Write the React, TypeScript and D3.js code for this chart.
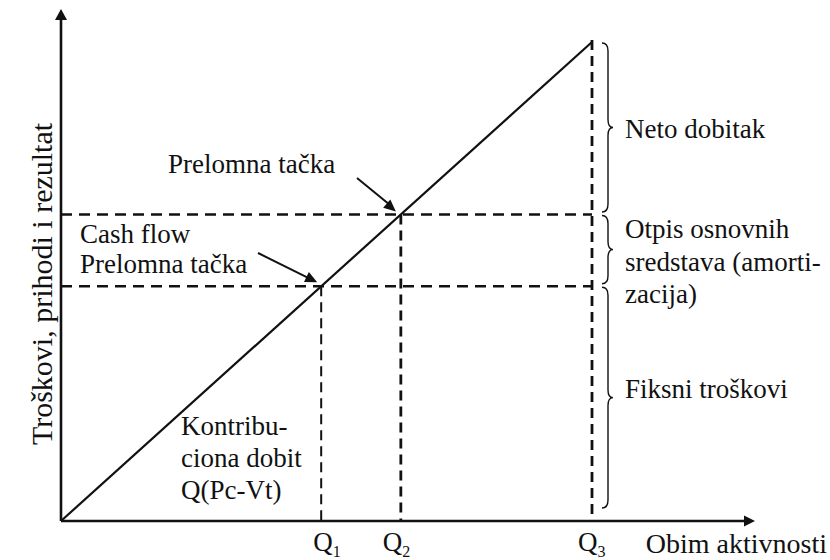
import React from "react";
import * as d3 from "d3";

// ---- data (abstract units) ----
const qNames = ["Q1", "Q2", "Q3"];
const qSubs = ["1", "2", "3"];
const qValues = [49, 64, 100]; // activity volume at Q1, Q2, Q3
const levelValues = [49, 64, 100]; // cash-flow BEP, BEP, revenue at Q3
const lineXs = [0, 100];
const lineYs = [0, 100];
const braceLabels = [
  ["Neto dobitak"],
  ["Otpis osnovnih", "sredstava (amorti-", "zacija)"],
  ["Fiksni troškovi"],
];
const braceRanges: [number, number][] = [
  [100, 64],
  [64, 49],
  [49, 0],
];
const yAxisLabel = "Troškovi, prihodi i rezultat";
const xAxisLabel = "Obim aktivnosti";
const bepLabel = ["Prelomna tačka"];
const cashBepLabel = ["Cash flow", "Prelomna tačka"];
const contribLabel = ["Kontribu-", "ciona dobit", "Q(Pc-Vt)"];

// ---- layout ----
const W = 830;
const H = 560;
const FONT = '"Liberation Serif", "Times New Roman", Times, serif';
const INK = "#111";

const x = d3.scaleLinear().domain([0, 100]).range([61, 592]);
const y = d3.scaleLinear().domain([0, 100]).range([521, 42]);

function arrowHead(x1: number, y1: number, x2: number, y2: number, len: number, half: number) {
  const a = Math.atan2(y2 - y1, x2 - x1);
  const bx = x2 - len * Math.cos(a);
  const by = y2 - len * Math.sin(a);
  const px = -Math.sin(a) * half;
  const py = Math.cos(a) * half;
  return `M${x2},${y2}L${bx + px},${by + py}L${bx - px},${by - py}Z`;
}

function bracePath(x0: number, y1: number, y2: number) {
  const xm = x0 + 6;
  const tip = x0 + 11;
  const ym = (y1 + y2) / 2;
  const r = Math.min(8, (y2 - y1) / 4);
  return `M${x0},${y1} Q${xm},${y1} ${xm},${y1 + r} L${xm},${ym - r} Q${xm},${ym} ${tip},${ym} Q${xm},${ym} ${xm},${ym + r} L${xm},${y2 - r} Q${xm},${y2} ${x0},${y2}`;
}

export default function App() {
  const line = d3
    .line<number>()
    .x((d) => x(lineXs[d]))
    .y((d) => y(lineYs[d]));
  const x0 = x(0);
  const y0 = y(0);
  const xAxisEnd = 755;
  const yAxisEnd = 9;
  const fs = 27;
  const qLabelDx = [-8, -18, -14];
  const braceX = 602;

  const [q1, q2, q3] = qValues;
  const [l1, l2, l3] = levelValues;

  return (
    <svg
      width={W}
      height={H}
      style={{ position: "absolute", left: 0, top: 0, background: "#fff" }}
    >
      <rect width={W} height={H} fill="#fff" />
      {/* dashed horizontal guides */}
      <g stroke={INK} strokeWidth={2.6} strokeDasharray="11 7" fill="none">
        <line x1={x0} y1={y(l2)} x2={x(q3)} y2={y(l2)} />
        <line x1={x0} y1={y(l1)} x2={x(q3)} y2={y(l1)} />
      </g>
      {/* dashed verticals */}
      <g stroke={INK} strokeDasharray="10 6" fill="none">
        <line x1={x(q1)} y1={y(l1)} x2={x(q1)} y2={y0} strokeWidth={2} />
        <line x1={x(q2)} y1={y(l2)} x2={x(q2)} y2={y0} strokeWidth={2.8} />
        <line x1={x(q3)} y1={y(l3) - 2} x2={x(q3)} y2={y0} strokeWidth={2.8} />
      </g>
      {/* revenue line */}
      <path d={line([0, 1]) || ""} stroke={INK} strokeWidth={2.2} fill="none" />
      {/* axes */}
      <line x1={x0} y1={y0} x2={xAxisEnd - 8} y2={y0} stroke={INK} strokeWidth={2.6} />
      <line x1={x0} y1={y0} x2={x0} y2={yAxisEnd + 10} stroke={INK} strokeWidth={2.6} />
      <path d={arrowHead(x0, y0, xAxisEnd, y0, 11, 5.5)} fill={INK} />
      <path d={arrowHead(x0, y0, x0, yAxisEnd, 11, 6)} fill={INK} />
      {/* annotation arrows */}
      <line x1={357} y1={178} x2={x(q2) - 9} y2={y(l2) - 8} stroke={INK} strokeWidth={2} />
      <path d={arrowHead(357, 178, x(q2) - 5, y(l2) - 3, 12, 5.5)} fill={INK} />
      <line x1={258} y1={253} x2={x(q1) - 10} y2={y(l1) - 7} stroke={INK} strokeWidth={2} />
      <path d={arrowHead(258, 253, x(q1) - 4, y(l1) - 4, 12, 5.5)} fill={INK} />
      {/* braces */}
      <g stroke={INK} strokeWidth={1.4} fill="none">
        {braceRanges.map((r, i) => (
          <path key={i} d={bracePath(braceX, y(r[0]) + 1, y(r[1]) - (i === 2 ? 13 : 2.5))} />
        ))}
      </g>
      {/* texts */}
      <g fill={INK} fontSize={fs} style={{ fontFamily: FONT }}>
        {qNames.map((n, i) => (
          <text key={n} x={x(qValues[i]) + qLabelDx[i]} y={551} style={{ fontFamily: FONT }}>
            Q
            <tspan fontSize={16} dy={6}>
              {qSubs[i]}
            </tspan>
          </text>
        ))}
        <text x={827} y={553} fontSize={28} textAnchor="end" style={{ fontFamily: FONT }}>
          {xAxisLabel}
        </text>
        <text
          transform={`translate(52, 284) rotate(-90)`}
          textAnchor="middle"
          fontSize={30}
          style={{ fontFamily: FONT }}
        >
          {yAxisLabel}
        </text>
        {bepLabel.map((t, i) => (
          <text key={t} x={168} y={173 + i * 30} style={{ fontFamily: FONT }}>{t}</text>
        ))}
        {cashBepLabel.map((t, i) => (
          <text key={t} x={80} y={243 + i * 30} style={{ fontFamily: FONT }}>{t}</text>
        ))}
        {contribLabel.map((t, i) => (
          <text key={t} x={181} y={435 + i * 32} style={{ fontFamily: FONT }}>{t}</text>
        ))}
        {braceLabels[0].map((t, i) => (
          <text key={t} x={625} y={138 + i * 32} style={{ fontFamily: FONT }}>{t}</text>
        ))}
        {braceLabels[1].map((t, i) => (
          <text key={t} x={625} y={238 + i * 32.5} style={{ fontFamily: FONT }}>{t}</text>
        ))}
        {braceLabels[2].map((t, i) => (
          <text key={t} x={625} y={398 + i * 32} style={{ fontFamily: FONT }}>{t}</text>
        ))}
      </g>
    </svg>
  );
}
